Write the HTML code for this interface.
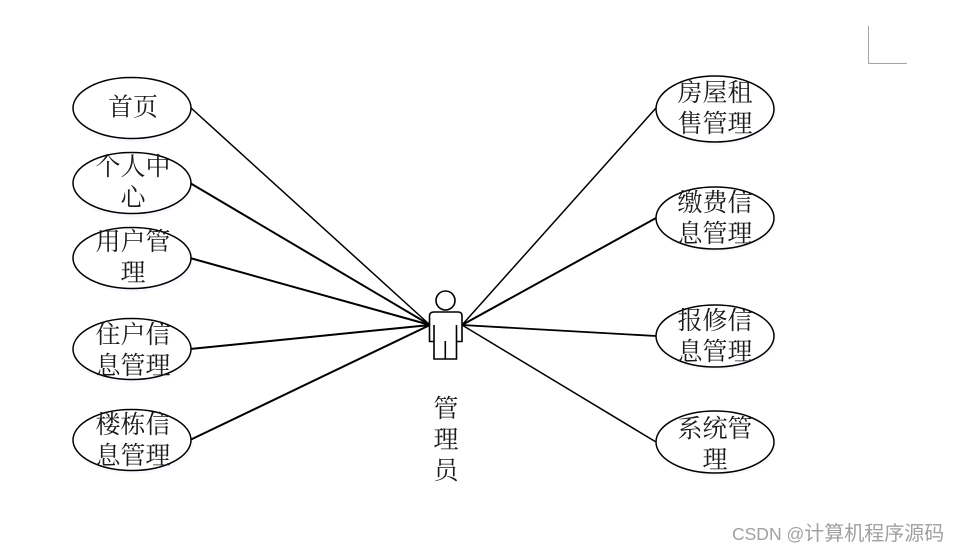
<!DOCTYPE html>
<html>
<head>
<meta charset="utf-8">
<style>
html,body{margin:0;padding:0;background:#fff;width:958px;height:553px;overflow:hidden}
svg{display:block}
.t{font-family:"Liberation Serif","Noto Serif CJK SC",serif;font-size:25px;fill:#1a1a1a;text-anchor:middle}
.w{font-family:"Liberation Sans","Noto Sans CJK SC",sans-serif;font-size:17.500px;fill:#a0a0a0}
</style>
</head>
<body>
<svg width="958" height="553" viewBox="0 0 958 553" xmlns="http://www.w3.org/2000/svg">
<rect width="958" height="553" fill="#fff"/>
<path d="M868.500 26V63.500H907" fill="none" stroke="#a6a6a6" stroke-width="1"/>
<g fill="#f6f9fd" stroke="none">
<ellipse cx="133" cy="111" rx="60" ry="31"/>
<ellipse cx="133" cy="186" rx="60" ry="31"/>
<ellipse cx="133" cy="261" rx="60" ry="31"/>
<ellipse cx="133" cy="352" rx="60" ry="31"/>
<ellipse cx="133" cy="443" rx="60" ry="31"/>
<ellipse cx="716" cy="112" rx="60" ry="33"/>
<ellipse cx="716" cy="221" rx="60" ry="31"/>
<ellipse cx="716" cy="339" rx="60" ry="31"/>
<ellipse cx="716" cy="445" rx="60" ry="31"/>
</g>
<g stroke="#000" fill="none">
<line x1="191" y1="108" x2="430" y2="325" stroke-width="1.500"/>
<line x1="190" y1="183" x2="430" y2="325" stroke-width="2"/>
<line x1="190" y1="258" x2="430" y2="325" stroke-width="2"/>
<line x1="190" y1="349" x2="430" y2="325" stroke-width="2"/>
<line x1="190" y1="440" x2="430" y2="325" stroke-width="2"/>
<line x1="462" y1="325" x2="656" y2="108" stroke-width="1.500"/>
<line x1="462" y1="325" x2="656" y2="218" stroke-width="2"/>
<line x1="462" y1="325" x2="656" y2="336" stroke-width="1.800"/>
<line x1="462" y1="325" x2="656" y2="442" stroke-width="1.500"/>
</g>
<g fill="#fff" stroke="#000" stroke-width="1.500">
<ellipse cx="132" cy="108" rx="59" ry="30.500"/>
<ellipse cx="132" cy="183" rx="59" ry="30.500"/>
<ellipse cx="132" cy="258" rx="59" ry="30.500"/>
<ellipse cx="132" cy="349" rx="59" ry="30.500"/>
<ellipse cx="132" cy="440" rx="59" ry="30.500"/>
<ellipse cx="715" cy="109" rx="59" ry="33"/>
<ellipse cx="715" cy="218" rx="59" ry="31"/>
<ellipse cx="715" cy="336" rx="59" ry="31"/>
<ellipse cx="715" cy="442" rx="59" ry="31"/>
</g>
<g fill="#fff" stroke="#000" stroke-width="1.600">
<circle cx="445.500" cy="300.500" r="9.500"/>
<path d="M434 312H458Q462 312 462 316V341.500H456.500V359H434V341.500H429.500V316Q429.500 312 434 312Z"/>
<path d="M434 325V341.500M456.500 325V341.500M445.300 341V359" fill="none"/>
</g>
<g>
<text class="t" x="133" y="115.500">首页</text>
<text class="t" x="133" y="175">个人中</text>
<text class="t" x="133" y="206">心</text>
<text class="t" x="133" y="250">用户管</text>
<text class="t" x="133" y="281">理</text>
<text class="t" x="133" y="343">住户信</text>
<text class="t" x="133" y="374">息管理</text>
<text class="t" x="133" y="433">楼栋信</text>
<text class="t" x="133" y="464">息管理</text>
<text class="t" x="715" y="101">房屋租</text>
<text class="t" x="715" y="132">售管理</text>
<text class="t" x="715" y="211">缴费信</text>
<text class="t" x="715" y="242">息管理</text>
<text class="t" x="715" y="329">报修信</text>
<text class="t" x="715" y="360">息管理</text>
<text class="t" x="715" y="437">系统管</text>
<text class="t" x="715" y="468">理</text>
<text class="t" x="446" y="417">管</text>
<text class="t" x="446" y="448">理</text>
<text class="t" x="446" y="479">员</text>
</g>
<text class="w" x="732" y="540">CSDN @<tspan font-size="20">计算机程序源码</tspan></text>
</svg>
</body>
</html>
